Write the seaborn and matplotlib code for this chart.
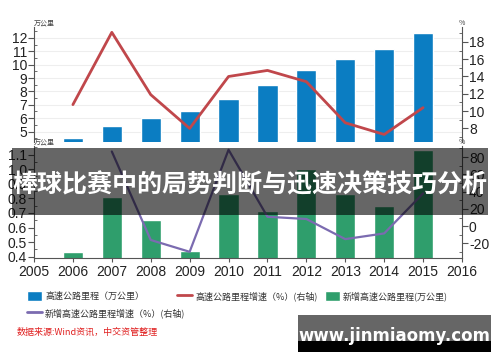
import matplotlib
matplotlib.use('Agg')
import matplotlib.pyplot as plt
from matplotlib.patches import Rectangle, Patch
from matplotlib.lines import Line2D
from matplotlib.ticker import MultipleLocator
import pandas as pd
import seaborn as sns

# data
years = [2006, 2007, 2008, 2009, 2010, 2011, 2012, 2013, 2014, 2015]
mileage = [4.55, 5.39, 6.03, 6.51, 7.41, 8.49, 9.62, 10.44, 11.19, 12.35]  # 万公里
mileage_growth = [10.75, 19.1, 11.9, 8.0, 14.0, 14.7, 13.4, 8.65, 7.3, 10.4]  # %
new_mileage = [0.434, 0.81, 0.65, 0.438, 0.83, 0.71, 1.0, 0.83, 0.747, 1.135]  # 万公里
new_years = [2007, 2008, 2009, 2010, 2011, 2012, 2013, 2014, 2015]
new_growth = [86.5, -16, -29.7, 88.5, 10.9, 8.3, -15, -8.4, 38]  # %

year_ticks = list(range(2005, 2017))
banner_text = '棒球比赛中的局势判断与迅速决策技巧分析'
source_text = '数据来源:Wind资讯，中交资管整理'

blue = '#0b7dc2'
red = '#c0474b'
green = '#2f9e6c'
purple = '#7b6bb0'

sns.set_style('white')
plt.rcParams['font.family'] = ['Noto Sans CJK SC', 'DejaVu Sans']
plt.rcParams['axes.unicode_minus'] = False
num_font = ['Liberation Sans Narrow', 'Liberation Sans', 'DejaVu Sans']

df_top = pd.DataFrame({'year': years, 'mileage': mileage, 'growth': mileage_growth})
df_bot = pd.DataFrame({'year': years, 'new': new_mileage})
df_new = pd.DataFrame({'year': new_years, 'growth': new_growth})

fig = plt.figure(figsize=(5, 3.62), dpi=100)
ax1 = fig.add_axes([0.068, 0.607, 0.856, 0.318])
ax3 = fig.add_axes([0.068, 0.287, 0.856, 0.31])


def style_axes(ax, ax_r, left_maj, left_min, right_maj, right_min, fmt_left):
    for a in (ax, ax_r):
        for s in a.spines.values():
            s.set_visible(False)
    ax.spines['left'].set_visible(True)
    ax_r.spines['right'].set_visible(True)
    for sp in (ax.spines['left'], ax_r.spines['right']):
        sp.set_color('#555555')
        sp.set_linewidth(0.8)
    ax.yaxis.set_major_locator(MultipleLocator(left_maj))
    ax.yaxis.set_minor_locator(MultipleLocator(left_min))
    ax_r.yaxis.set_major_locator(MultipleLocator(right_maj))
    ax_r.yaxis.set_minor_locator(MultipleLocator(right_min))
    ax.tick_params(axis='y', which='major', left=True, length=4, width=0.8, color='#555555', pad=1, labelsize=10)
    ax.tick_params(axis='y', which='minor', left=True, length=2.5, width=0.6, color='#555555', direction='in')
    ax_r.tick_params(axis='y', which='major', right=True, length=4, width=0.8, color='#555555', pad=1, labelsize=10)
    ax_r.tick_params(axis='y', which='minor', right=True, length=2.5, width=0.6, color='#555555', direction='in')
    ax.yaxis.set_major_formatter(fmt_left)
    for lab in ax.get_yticklabels() + ax_r.get_yticklabels():
        lab.set_family(num_font)
        lab.set_color('#222222')
    ax.set_xlabel('')
    ax.set_ylabel('')
    ax_r.set_xlabel('')
    ax_r.set_ylabel('')


# top chart: mileage bars + growth line
sns.barplot(data=df_top, x='year', y='mileage', native_scale=True, width=0.52,
            color=blue, saturation=1, errorbar=None, ax=ax1)
ax1.set_xlim(2005, 2016)
ax1.set_ylim(4.2, 12.8)
ax1.yaxis.grid(True, color='#eeeeee', linewidth=0.8)
ax1.set_axisbelow(True)
ax1.set_xticks([])
ax2 = ax1.twinx()
sns.lineplot(data=df_top, x='year', y='growth', color=red, linewidth=2.0, ax=ax2)
ax2.set_ylim(6.4, 19.7)
ax2.set_xlim(2005, 2016)
style_axes(ax1, ax2, 1, 0.5, 2, 1, '{x:.0f}')
ax1.set_yticks(range(5, 13))
ax1.set_ylim(4.2, 12.8)
for lab in ax1.get_yticklabels():
    lab.set_family(num_font)

# bottom chart: new mileage bars + new growth line
sns.barplot(data=df_bot, x='year', y='new', native_scale=True, width=0.52,
            color=green, saturation=1, errorbar=None, ax=ax3)
ax3.set_xlim(2005, 2016)
ax3.set_ylim(0.39, 1.16)
ax4 = ax3.twinx()
sns.lineplot(data=df_new, x='year', y='growth', color=purple, linewidth=1.6, ax=ax4)
ax4.set_ylim(-37, 93)
ax4.set_xlim(2005, 2016)
style_axes(ax3, ax4, 0.1, 0.05, 20, 10, '{x:.1f}')
ax3.spines['bottom'].set_visible(True)
ax3.spines['bottom'].set_color('#555555')
ax3.spines['bottom'].set_linewidth(0.8)
ax3.set_xticks(year_ticks)
ax3.set_xticklabels([str(y) for y in year_ticks])
ax3.tick_params(axis='x', bottom=True, length=3, width=0.8, color='#555555', pad=2, labelsize=10)
for lab in ax3.get_xticklabels():
    lab.set_family(num_font)
    lab.set_color('#222222')

# unit labels at top of the spines
for ax, txt in ((ax1, '万公里'), (ax3, '万公里')):
    ax.text(0.0, 1.0, txt, transform=ax.transAxes, fontsize=5, color='#444444',
            ha='left', va='bottom')
for ax in (ax2, ax4):
    ax.text(1.0, 1.0, '%', transform=ax.transAxes, fontsize=5, color='#444444',
            ha='center', va='bottom')

# legend, one entry per block
entries = [
    (Patch(facecolor=blue), '高速公路里程（万公里）', 27, 296),
    (Line2D([], [], color=red, linewidth=2), '高速公路里程增速（%）(右轴)', 177, 296),
    (Patch(facecolor=green), '新增高速公路里程(万公里)', 325, 296),
    (Line2D([], [], color=purple, linewidth=2), '新增高速公路里程增速（%）(右轴)', 27, 313),
]
for handle, label, px, py in entries:
    fig.legend(handles=[handle], labels=[label], loc='center left',
               bbox_to_anchor=(px / 500, 1 - py / 362), frameon=False,
               fontsize=6.5, handlelength=1.7, handleheight=1.4,
               handletextpad=0.3, borderpad=0, borderaxespad=0,
               labelcolor='#333333')

fig.text(17 / 500, 1 - 332 / 362, source_text, color='#e02020', fontsize=6.5,
         ha='left', va='center')

# banner overlay
fig.add_artist(Rectangle((12 / 500, 1 - 215 / 362), 476 / 500, 67 / 362,
                         facecolor='black', alpha=0.6, edgecolor='none', zorder=10))
fig.text(0.5, 1 - 185 / 362, banner_text, color='white', fontsize=18,
         fontweight='bold', ha='center', va='center', zorder=11)

# watermark box
fig.add_artist(Rectangle((298 / 500, 1 - 341 / 362), 193 / 500, 26 / 362,
                         facecolor='#666666', edgecolor='none', zorder=10))
fig.add_artist(Rectangle((298 / 500, 1 - 352 / 362), 193 / 500, 11 / 362,
                         facecolor='black', edgecolor='none', zorder=10))
fig.text(394 / 500, 1 - 336 / 362, 'www.jinmiaomy.com', color='white',
         fontsize=12, fontweight='bold', family='DejaVu Sans',
         ha='center', va='center', zorder=11)

fig.savefig('out.png', dpi=100)
